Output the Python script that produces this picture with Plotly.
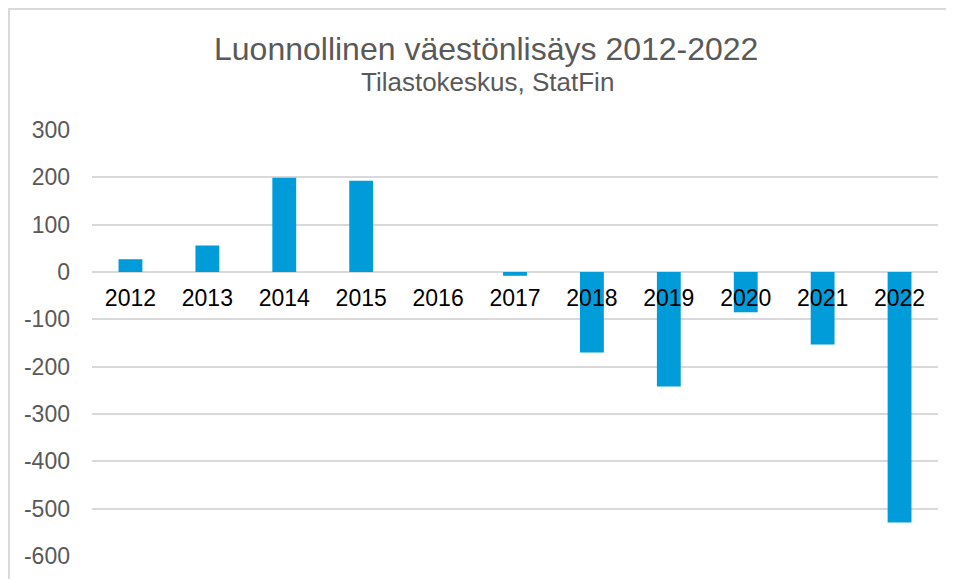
import plotly.graph_objects as go

years = ["2012", "2013", "2014", "2015", "2016", "2017", "2018", "2019", "2020", "2021", "2022"]
values = [27, 56, 199, 193, 0, -8, -170, -242, -85, -153, -529]
y_ticks = [300, 200, 100, 0, -100, -200, -300, -400, -500, -600]
y_tick_labels = ["300", "200", "100", "0", "-100", "-200", "-300", "-400", "-500", "-600"]

# page has an 8px body margin; the figure is placed at (8, 8)
OFF = 8
W, H = 954 - OFF, 579 - OFF
L, R, T, B = 92 - OFF, 16, 130 - OFF, 23
pw = W - L - R
ph = H - T - B

def px_x(x):
    return (x - OFF - L) / pw

def px_y(y):
    return (H - B - (y - OFF)) / ph

fig = go.Figure(go.Bar(
    x=years, y=values, marker_color="#009CDA", marker_line_width=0, width=0.31,
))

ymin, ymax = -600, 300
fig.update_layout(
    width=W, height=H,
    margin=dict(l=L, r=R, t=T, b=B, autoexpand=False),
    paper_bgcolor="white", plot_bgcolor="white",
    showlegend=False,
    font=dict(family="Liberation Sans, Arial, sans-serif"),
    xaxis=dict(
        type="category", anchor="free", position=(0 - ymin) / (ymax - ymin),
        showgrid=False, zeroline=False, showline=False, ticks="", automargin=False,
        tickfont=dict(size=23, color="#000000"), ticklabelstandoff=10,
    ),
    yaxis=dict(
        range=[ymin, ymax], tickvals=y_ticks, ticktext=y_tick_labels, showgrid=True,
        gridcolor="#D9D9D9", gridwidth=1.5, zeroline=True, zerolinecolor="#D9D9D9",
        zerolinewidth=1.5, showline=False, ticks="", automargin=False,
        tickfont=dict(size=23, color="#595959"), ticklabelstandoff=21,
    ),
    shapes=[dict(
        type="rect", xref="paper", yref="paper",
        x0=px_x(9), x1=px_x(970), y0=px_y(600), y1=px_y(9),
        line=dict(color="#D9D9D9", width=2), layer="below",
    )],
    annotations=[
        dict(text="Luonnollinen väestönlisäys 2012-2022", xref="paper", yref="paper",
             x=px_x(486), y=px_y(49), xanchor="center", yanchor="middle",
             showarrow=False, font=dict(size=32, color="#595959")),
        dict(text="Tilastokeskus, StatFin", xref="paper", yref="paper",
             x=px_x(487), y=px_y(82), xanchor="center", yanchor="middle",
             showarrow=False, font=dict(size=26, color="#595959")),
    ],
)

fig.write_html("out.html")
